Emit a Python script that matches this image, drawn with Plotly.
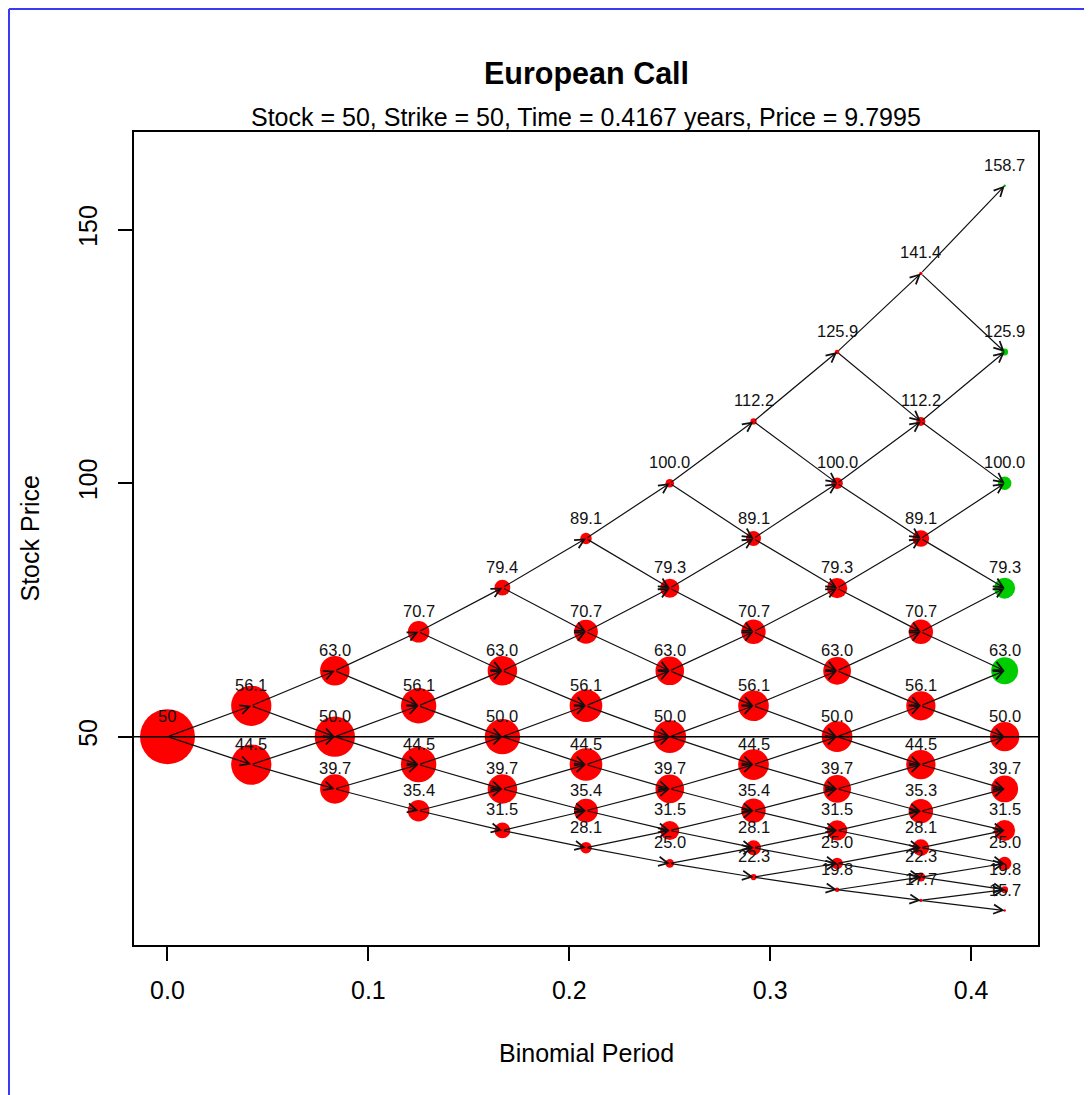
import plotly.graph_objects as go

# ---------------- data ----------------
title_text = "European Call"
subtitle_text = "Stock = 50, Strike = 50, Time = 0.4167 years, Price = 9.7995"
strike = 50

periods = [0.0, 0.0417, 0.0833, 0.125, 0.1667, 0.2083, 0.25, 0.2917, 0.3333, 0.375, 0.4167]

stock_p0 = [50]
stock_p1 = [56.1, 44.5]
stock_p2 = [63.0, 50.0, 39.7]
stock_p3 = [70.7, 56.1, 44.5, 35.4]
stock_p4 = [79.4, 63.0, 50.0, 39.7, 31.5]
stock_p5 = [89.1, 70.7, 56.1, 44.5, 35.4, 28.1]
stock_p6 = [100.0, 79.3, 63.0, 50.0, 39.7, 31.5, 25.0]
stock_p7 = [112.2, 89.1, 70.7, 56.1, 44.5, 35.4, 28.1, 22.3]
stock_p8 = [125.9, 100.0, 79.3, 63.0, 50.0, 39.7, 31.5, 25.0, 19.8]
stock_p9 = [141.4, 112.2, 89.1, 70.7, 56.1, 44.5, 35.3, 28.1, 22.3, 17.7]
stock_p10 = [158.7, 125.9, 100.0, 79.3, 63.0, 50.0, 39.7, 31.5, 25.0, 19.8, 15.7]

# probability of reaching each node (encoded as circle area)
prob_p0 = [1.0]
prob_p1 = [0.5, 0.5]
prob_p2 = [0.25, 0.5, 0.25]
prob_p3 = [0.125, 0.375, 0.375, 0.125]
prob_p4 = [0.0625, 0.25, 0.375, 0.25, 0.0625]
prob_p5 = [0.031, 0.156, 0.313, 0.313, 0.156, 0.031]
prob_p6 = [0.016, 0.094, 0.234, 0.313, 0.234, 0.094, 0.016]
prob_p7 = [0.008, 0.055, 0.164, 0.273, 0.273, 0.164, 0.055, 0.008]
prob_p8 = [0.004, 0.031, 0.109, 0.219, 0.273, 0.219, 0.109, 0.031, 0.004]
prob_p9 = [0.002, 0.018, 0.070, 0.164, 0.246, 0.246, 0.164, 0.070, 0.018, 0.002]
prob_p10 = [0.001, 0.010, 0.044, 0.117, 0.205, 0.246, 0.205, 0.117, 0.044, 0.010, 0.001]

x_ticks = [0.0, 0.1, 0.2, 0.3, 0.4]
y_ticks = [50, 100, 150]

stocks = [stock_p0, stock_p1, stock_p2, stock_p3, stock_p4, stock_p5,
          stock_p6, stock_p7, stock_p8, stock_p9, stock_p10]
probs = [prob_p0, prob_p1, prob_p2, prob_p3, prob_p4, prob_p5,
         prob_p6, prob_p7, prob_p8, prob_p9, prob_p10]

# ---------------- layout geometry ----------------
# the page body adds an 8px offset, so the figure is 8px smaller and shifted
OFF = 8
W, H = 1092 - OFF, 1095 - OFF
ML, MR, MT, MB = 134 - OFF, 54, 132 - OFF, 150
PW, PH = W - ML - MR, H - MT - MB


def px_to_paper_x(px):  # px in screen coordinates
    return (px - OFF - ML) / PW


def px_to_paper_y(py):
    return (H - MB - (py - OFF)) / PH


FONT = "Liberation Sans, Arial, sans-serif"
RED = "#FF0000"
GREEN = "#00CD00"
last = len(periods) - 1

fig = go.Figure()

# nodes
xs, ys, sizes, colors = [], [], [], []
for i, (col, pr) in enumerate(zip(stocks, probs)):
    for s, p in zip(col, pr):
        xs.append(periods[i])
        ys.append(s)
        sizes.append(max(2.5, 55 * p ** 0.45))
        colors.append(GREEN if (i == last and s > strike) else RED)

fig.add_trace(go.Scatter(
    x=xs, y=ys, mode="markers",
    marker=dict(size=sizes, color=colors, opacity=1, line=dict(width=0)),
    hoverinfo="x+y", showlegend=False,
))

annotations = []
# edges with arrowheads
for i in range(last):
    for j, s in enumerate(stocks[i]):
        for k in (j, j + 1):
            annotations.append(dict(
                x=periods[i + 1], y=stocks[i + 1][k],
                ax=periods[i], ay=s,
                xref="x", yref="y", axref="x", ayref="y",
                showarrow=True, arrowhead=5, arrowsize=1.5, arrowwidth=1.2,
                arrowcolor="#111111", standoff=0, startstandoff=0, text="",
            ))

# node labels
for i, col in enumerate(stocks):
    for s in col:
        lab = f"{s:g}" if i == 0 else f"{s:.1f}"
        annotations.append(dict(
            x=periods[i], y=s, xref="x", yref="y", text=lab,
            showarrow=False, yshift=21, yanchor="middle", xanchor="center",
            font=dict(family=FONT, size=16.5, color="#111111"),
        ))

# titles
annotations.append(dict(
    x=0.5, y=px_to_paper_y(73), xref="paper", yref="paper",
    text="<b>" + title_text + "</b>", showarrow=False,
    xanchor="center", yanchor="middle",
    font=dict(family=FONT, size=30.5, color="black"),
))
annotations.append(dict(
    x=0.5, y=px_to_paper_y(117), xref="paper", yref="paper",
    text=subtitle_text, showarrow=False,
    xanchor="center", yanchor="middle",
    font=dict(family=FONT, size=25, color="black"),
))
annotations.append(dict(
    x=0.5, y=px_to_paper_y(1053), xref="paper", yref="paper",
    text="Binomial Period", showarrow=False,
    xanchor="center", yanchor="middle",
    font=dict(family=FONT, size=25, color="black"),
))
annotations.append(dict(
    x=px_to_paper_x(29), y=0.5, xref="paper", yref="paper",
    text="Stock Price", showarrow=False, textangle=-90,
    xanchor="center", yanchor="middle",
    font=dict(family=FONT, size=25, color="black"),
))

shapes = [
    # horizontal reference line at the strike
    dict(type="line", xref="paper", yref="y", x0=0, x1=1, y0=strike, y1=strike,
         line=dict(color="black", width=1.5), layer="above"),
    # blue frame (left and top)
    dict(type="line", xref="paper", yref="paper",
         x0=px_to_paper_x(9), x1=px_to_paper_x(9),
         y0=px_to_paper_y(1100), y1=px_to_paper_y(9),
         line=dict(color="#3A3AF5", width=2)),
    dict(type="line", xref="paper", yref="paper",
         x0=px_to_paper_x(9), x1=px_to_paper_x(1100),
         y0=px_to_paper_y(9), y1=px_to_paper_y(9),
         line=dict(color="#3A3AF5", width=2)),
]

axis_common = dict(
    showline=True, linecolor="black", linewidth=1.5, mirror=True,
    ticks="outside", ticklen=14, tickwidth=1.5, tickcolor="black",
    showgrid=False, zeroline=False,
    tickfont=dict(family=FONT, size=25, color="black"),
)

fig.update_layout(
    width=W, height=H,
    margin=dict(l=ML, r=MR, t=MT, b=MB, pad=0),
    paper_bgcolor="white", plot_bgcolor="white",
    xaxis=dict(range=[-0.01667, 0.4333], tickvals=x_ticks, tickformat=".1f",
               ticklabelstandoff=8, **axis_common),
    yaxis=dict(range=[8.9, 169.3], tickvals=y_ticks, tickangle=-90,
               ticklabelstandoff=11, **axis_common),
    annotations=annotations,
    shapes=shapes,
    showlegend=False,
)

fig.write_html("out.html")
